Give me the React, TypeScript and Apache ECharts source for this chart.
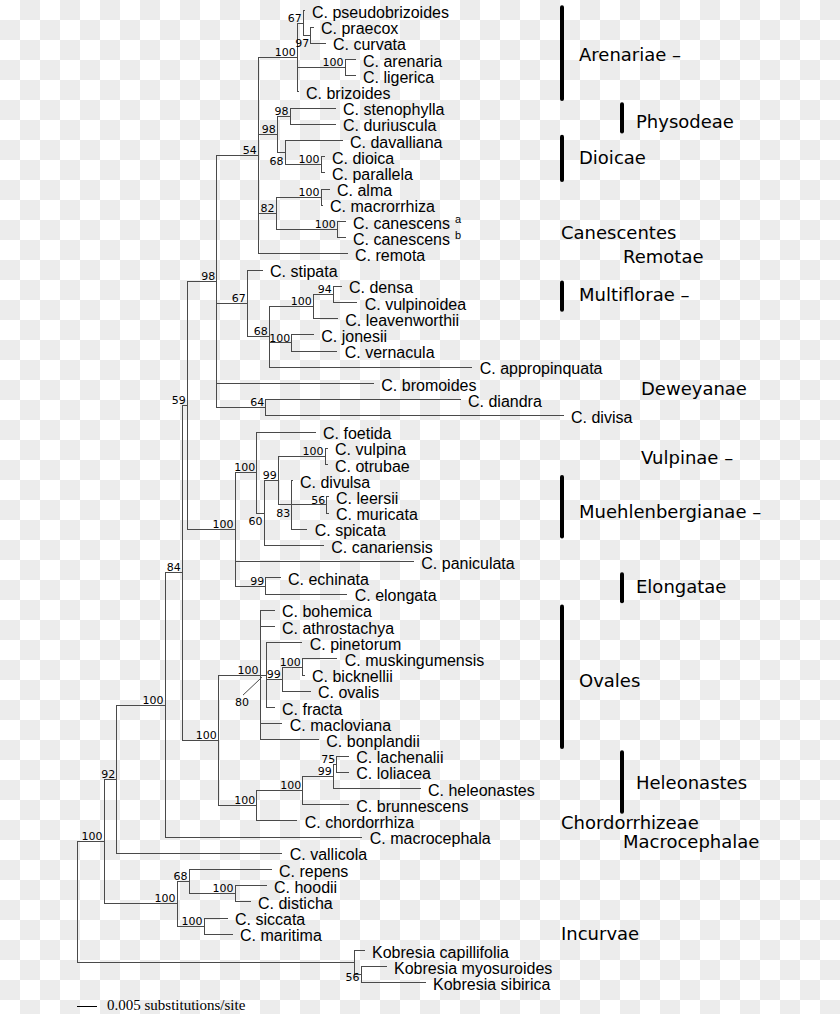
import React, { useEffect, useRef } from "react";
import * as echarts from "echarts";

// ---------- DATA ----------
// Each node: [node id or taxon name, parent id, distance from root (substitutions/site)]
const backboneNodes: [string, string, number][] = [
  ["root", "", 0],
  ["A", "root", 0.00675],
  ["B", "A", 0.00993],
  ["C", "B", 0.022],
  ["D", "C", 0.02633],
  ["E", "D", 0.02758],
  ["G", "E", 0.03493],
];

const upperCladeNodes: [string, string, number][] = [
  ["I", "G", 0.04533],
  ["K", "I", 0.05508],
  ["N67", "K", 0.05658],
  ["C. pseudobrizoides", "N67", 0.05675],
  ["N97", "N67", 0.05843],
  ["C. praecox", "N97", 0.059],
  ["C. curvata", "N97", 0.062],
  ["N100ar", "K", 0.067],
  ["C. arenaria", "N100ar", 0.0695],
  ["C. ligerica", "N100ar", 0.0695],
  ["C. brizoides", "K", 0.05525],
  ["L98", "I", 0.05008],
  ["N98b", "L98", 0.05325],
  ["C. stenophylla", "N98b", 0.0645],
  ["C. duriuscula", "N98b", 0.0645],
  ["N68d", "L98", 0.052],
  ["C. davalliana", "N68d", 0.06625],
  ["N100d", "N68d", 0.061],
  ["C. dioica", "N100d", 0.06175],
  ["C. parallela", "N100d", 0.06175],
  ["M82", "I", 0.04975],
  ["N100al", "M82", 0.061],
  ["C. alma", "N100al", 0.063],
  ["C. macrorrhiza", "N100al", 0.06125],
  ["N100ca", "M82", 0.06508],
  ["C. canescens a", "N100ca", 0.067],
  ["C. canescens b", "N100ca", 0.067],
  ["C. remota", "I", 0.0675],
];

const multifloraeNodes: [string, string, number][] = [
  ["J67", "G", 0.04258],
  ["C. stipata", "J67", 0.04625],
  ["N68m", "J67", 0.04808],
  ["N100m", "N68m", 0.05908],
  ["N94", "N100m", 0.06408],
  ["C. densa", "N94", 0.066],
  ["C. vulpinoidea", "N94", 0.06993],
  ["C. leavenworthii", "N100m", 0.06508],
  ["N100j", "N68m", 0.05368],
  ["C. jonesii", "N100j", 0.05908],
  ["C. vernacula", "N100j", 0.06493],
  ["C. appropinquata", "N68m", 0.09868],
  ["C. bromoides", "G", 0.07408],
  ["N64", "G", 0.04718],
  ["C. diandra", "N64", 0.09575],
  ["C. divisa", "N64", 0.1215],
];

const vulpinaeNodes: [string, string, number][] = [
  ["H", "E", 0.0395],
  ["Nv", "H", 0.04493],
  ["C. foetida", "Nv", 0.0595],
  ["N60", "Nv", 0.04675],
  ["N99v", "N60", 0.05033],
  ["N100vo", "N99v", 0.062],
  ["C. vulpina", "N100vo", 0.0625],
  ["C. otrubae", "N100vo", 0.0625],
  ["N83", "N99v", 0.05368],
  ["C. divulsa", "N83", 0.05375],
  ["N56", "N83", 0.06243],
  ["C. leersii", "N56", 0.06275],
  ["C. muricata", "N56", 0.06275],
  ["C. spicata", "N83", 0.05743],
  ["C. canariensis", "N60", 0.06158],
  ["C. paniculata", "H", 0.08408],
  ["N99e", "H", 0.04718],
  ["C. echinata", "N99e", 0.05075],
  ["C. elongata", "N99e", 0.06743],
];

const ovalesNodes: [string, string, number][] = [
  ["F", "D", 0.03533],
  ["O", "F", 0.04575],
  ["C. bohemica", "O", 0.04925],
  ["C. athrostachya", "O", 0.04925],
  ["N80", "O", 0.04725],
  ["C. pinetorum", "N80", 0.05618],
  ["N99o", "N80", 0.05133],
  ["N100mb", "N99o", 0.05633],
  ["C. muskingumensis", "N100mb", 0.06493],
  ["C. bicknellii", "N100mb", 0.05675],
  ["C. ovalis", "N99o", 0.05825],
  ["C. fracta", "N80", 0.04925],
  ["C. macloviana", "O", 0.05118],
  ["C. bonplandii", "O", 0.06033],
  ["P", "F", 0.04493],
  ["Q", "P", 0.05643],
  ["N99h", "Q", 0.06408],
  ["N75", "N99h", 0.06493],
  ["C. lachenalii", "N75", 0.06783],
  ["C. loliacea", "N75", 0.06783],
  ["C. heleonastes", "N99h", 0.08575],
  ["C. brunnescens", "Q", 0.06783],
  ["C. chordorrhiza", "P", 0.05493],
];

const basalNodes: [string, string, number][] = [
  ["C. macrocephala", "C", 0.07118],
  ["C. vallicola", "B", 0.05118],
  ["Inc", "A", 0.025],
  ["N68i", "Inc", 0.028],
  ["C. repens", "N68i", 0.0485],
  ["N100h", "N68i", 0.0395],
  ["C. hoodii", "N100h", 0.04725],
  ["C. disticha", "N100h", 0.04325],
  ["N100s", "Inc", 0.03175],
  ["C. siccata", "N100s", 0.0375],
  ["C. maritima", "N100s", 0.03875],
  ["Kob", "root", 0.06925],
  ["Kobresia capillifolia", "Kob", 0.07175],
  ["N56k", "Kob", 0.071],
  ["Kobresia myosuroides", "N56k", 0.07725],
  ["Kobresia sibirica", "N56k", 0.087],
];

// bootstrap support: [node id, value]
const supportValues: [string, number][] = [
  ["K", 100], ["N67", 67], ["N97", 97], ["N100ar", 100], ["I", 54],
  ["N98b", 98], ["L98", 98], ["N68d", 68], ["N100d", 100], ["M82", 82],
  ["N100al", 100], ["N100ca", 100], ["G", 98], ["J67", 67], ["N94", 94],
  ["N100m", 100], ["N68m", 68], ["N100j", 100], ["N64", 64], ["E", 59],
  ["Nv", 100], ["N99v", 99], ["N100vo", 100], ["N56", 56], ["N83", 83],
  ["N60", 60], ["H", 100], ["N99e", 99], ["D", 84], ["O", 100],
  ["N80", 80], ["N99o", 99], ["N100mb", 100], ["F", 100], ["P", 100],
  ["Q", 100], ["N99h", 99], ["N75", 75], ["C", 100], ["B", 92],
  ["A", 100], ["Inc", 100], ["N68i", 68], ["N100h", 100], ["N100s", 100],
  ["N56k", 56],
];

const leafSuperscripts: [string, string][] = [
  ["C. canescens a", "a"],
  ["C. canescens b", "b"],
];

// clade / section annotations
const cladeNames = [
  "Arenariae –", "Physodeae", "Dioicae", "Canescentes", "Remotae",
  "Multiflorae –", "Deweyanae", "Vulpinae –", "Muehlenbergianae –", "Elongatae",
  "Ovales", "Heleonastes", "Chordorrhizeae", "Macrocephalae", "Incurvae",
];
const cladeTextRows = [2.72, 6.8, 9.02, 13.65, 15.19, 17.48, 23.28, 27.54, 30.93, 35.56, 41.36, 47.6, 50.07, 51.3, 56.92];
const cladeBarRows: ([number, number] | null)[] = [
  [0, 5], [6, 7], [8, 10], null, null, [17, 18], null, null, [29, 32], [35, 36],
  [37, 45], [46, 49], null, null, null,
];
const cladeColumns = [0, 1, 0, 0, 1, 0, 2, 2, 0, 1, 0, 1, 0, 1, 0];

const scaleBarLength = 0.005;
const scaleBarLabel = "0.005 substitutions/site";

// ---------- LAYOUT / STYLE ----------
const GRID_LEFT = 77;
const GRID_TOP = 10.9;
const PX_PER_UNIT = 4000;
const ROW_PX = 16.2;
const X_MAX = 0.19;
const ROW_MAX = 60;
const BRANCH_COLOR = "#4a4a4a";
const LEAF_FONT = '16px "Liberation Sans", Arial, Helvetica, sans-serif';
const SUP_FONT = '11px "Liberation Sans", Arial, Helvetica, sans-serif';
const SUPPORT_FONT = '11px "DejaVu Sans", Verdana, sans-serif';
const CLADE_FONT = '18px "DejaVu Sans", Verdana, sans-serif';
const SCALE_FONT = '15px "Liberation Serif", "Times New Roman", serif';
const BAR_X = [562, 622];
const TEXT_X_BAR = [579, 636];
const TEXT_X_PLAIN = [561, 623, 641];
const SCALE_ROW = 61.45;
const SUPPORT_BELOW = ["N97", "N68d", "N83", "N60"];
const SUPPORT_LEVEL = ["N56k"];
const SUPPORT_CALLOUT = ["N80"];

// ---------- DERIVED TREE STRUCTURE ----------
const treeNodes = [
  ...backboneNodes,
  ...upperCladeNodes,
  ...multifloraeNodes,
  ...vulpinaeNodes,
  ...ovalesNodes,
  ...basalNodes,
];
const depthOf = new Map<string, number>();
const childrenOf = new Map<string, string[]>();
treeNodes.forEach(([id, parent, d]) => {
  depthOf.set(id, d);
  if (parent) {
    if (!childrenOf.has(parent)) childrenOf.set(parent, []);
    childrenOf.get(parent)!.push(id);
  }
});
const leaves = treeNodes.filter(([id]) => !childrenOf.has(id)).map(([id]) => id);
const rowOf = new Map<string, number>();
leaves.forEach((id, i) => rowOf.set(id, i));
function nodeRow(id: string): number {
  if (rowOf.has(id)) return rowOf.get(id)!;
  const ch = childrenOf.get(id)!;
  const r = (nodeRow(ch[0]) + nodeRow(ch[ch.length - 1])) / 2;
  rowOf.set(id, r);
  return r;
}
treeNodes.forEach(([id]) => nodeRow(id));

const branchSegments: number[][] = [];
treeNodes.forEach(([id, parent, d]) => {
  const r = rowOf.get(id)!;
  if (parent) branchSegments.push([depthOf.get(parent)!, r, d, r]);
  const ch = childrenOf.get(id);
  if (ch) branchSegments.push([d, rowOf.get(ch[0])!, d, rowOf.get(ch[ch.length - 1])!]);
});

const supMap = new Map(leafSuperscripts);
const displayName = (id: string) => (supMap.has(id) ? id.replace(/ [ab]$/, "") : id);

let measureCtx: CanvasRenderingContext2D | null = null;
function measure(text: string, font: string): number {
  if (!measureCtx) measureCtx = document.createElement("canvas").getContext("2d");
  if (!measureCtx) return text.length * 8;
  measureCtx.font = font;
  return measureCtx.measureText(text).width;
}

const crisp = (v: number) => Math.round(v - 0.5) + 0.5;

function textEl(text: string, x: number, y: number, font: string, align: string, fill = "#000") {
  return {
    type: "text",
    style: {
      text, x, y, font, fill,
      textAlign: align, align,
      textVerticalAlign: "middle", verticalAlign: "middle",
    },
  };
}

export default function App() {
  const ref = useRef<HTMLDivElement>(null);
  useEffect(() => {
    if (!ref.current) return;
    const chart = echarts.init(ref.current, null, { renderer: "svg" });
    const option: any = {
      animation: false,
      backgroundColor: "transparent",
      grid: { left: GRID_LEFT, top: GRID_TOP, width: X_MAX * PX_PER_UNIT, height: ROW_MAX * ROW_PX },
      xAxis: { type: "value", min: 0, max: X_MAX, show: false },
      yAxis: { type: "value", min: 0, max: ROW_MAX, inverse: true, show: false },
      series: [
        {
          name: "branches",
          type: "custom",
          silent: true,
          clip: false,
          data: branchSegments,
          renderItem: (_p: any, api: any) => {
            const a = api.coord([api.value(0), api.value(1)]);
            const b = api.coord([api.value(2), api.value(3)]);
            return {
              type: "line",
              shape: { x1: crisp(a[0]), y1: crisp(a[1]), x2: crisp(b[0]), y2: crisp(b[1]) },
              style: { stroke: BRANCH_COLOR, lineWidth: 1, lineCap: "square" },
            };
          },
        },
        {
          name: "taxa",
          type: "custom",
          silent: true,
          clip: false,
          data: leaves.map((id) => [depthOf.get(id)!, rowOf.get(id)!]),
          renderItem: (p: any, api: any) => {
            const id = leaves[p.dataIndex];
            const pt = api.coord([api.value(0), api.value(1)]);
            const name = displayName(id);
            const x = pt[0] + 8;
            const els: any[] = [textEl(name, x, pt[1] + 1.5, LEAF_FONT, "left")];
            const sup = supMap.get(id);
            if (sup) {
              const w = measure(name, LEAF_FONT);
              els.push(textEl(sup, x + w + 5, pt[1] - 2.5, SUP_FONT, "left"));
            }
            return { type: "group", children: els };
          },
        },
        {
          name: "support",
          type: "custom",
          silent: true,
          clip: false,
          data: supportValues.map(([id, v]) => [depthOf.get(id)!, rowOf.get(id)!, v]),
          renderItem: (p: any, api: any) => {
            const id = supportValues[p.dataIndex][0];
            const pt = api.coord([api.value(0), api.value(1)]);
            const label = String(api.value(2));
            if (SUPPORT_CALLOUT.includes(id)) {
              return {
                type: "group",
                children: [
                  {
                    type: "line",
                    shape: { x1: pt[0] - 4, y1: pt[1] + 2, x2: pt[0] - 23, y2: pt[1] + 20 },
                    style: { stroke: BRANCH_COLOR, lineWidth: 1 },
                  },
                  textEl(label, pt[0] - 24, pt[1] + 27, SUPPORT_FONT, "center"),
                ],
              };
            }
            let dy = -5;
            if (SUPPORT_BELOW.includes(id)) dy = 8.5;
            if (SUPPORT_LEVEL.includes(id)) dy = 3;
            return textEl(label, pt[0] - 1.5, pt[1] + dy, SUPPORT_FONT, "right");
          },
        },
        {
          name: "clades",
          type: "custom",
          silent: true,
          clip: false,
          data: cladeNames.map((_, i) => [0, cladeTextRows[i]]),
          renderItem: (p: any, api: any) => {
            const i = p.dataIndex;
            const col = cladeColumns[i];
            const bar = cladeBarRows[i];
            const ty = api.coord([0, api.value(1)])[1];
            const els: any[] = [];
            if (bar) {
              const y1 = api.coord([0, bar[0] - 0.23])[1];
              const y2 = api.coord([0, bar[1] + 0.44])[1];
              els.push({
                type: "line",
                shape: { x1: BAR_X[col], y1, x2: BAR_X[col], y2 },
                style: { stroke: "#000", lineWidth: 4, lineCap: "round" },
              });
              els.push(textEl(cladeNames[i], TEXT_X_BAR[col], ty, CLADE_FONT, "left"));
            } else {
              els.push(textEl(cladeNames[i], TEXT_X_PLAIN[col], ty, CLADE_FONT, "left"));
            }
            return { type: "group", children: els };
          },
        },
        {
          name: "scale",
          type: "custom",
          silent: true,
          clip: false,
          data: [[0, SCALE_ROW, scaleBarLength]],
          renderItem: (_p: any, api: any) => {
            const a = api.coord([api.value(0), api.value(1)]);
            const b = api.coord([api.value(2), api.value(1)]);
            return {
              type: "group",
              children: [
                {
                  type: "line",
                  shape: { x1: a[0], y1: crisp(a[1]), x2: b[0], y2: crisp(b[1]) },
                  style: { stroke: "#000", lineWidth: 1 },
                },
                textEl(scaleBarLabel, b[0] + 10, a[1] - 1, SCALE_FONT, "left"),
              ],
            };
          },
        },
      ],
    };
    chart.setOption(option);
    return () => chart.dispose();
  }, []);
  return (
    <div
      ref={ref}
      style={{
        position: "absolute",
        left: 0,
        top: 0,
        width: 840,
        height: 1014,
        backgroundColor: "#fff",
        backgroundImage: "repeating-conic-gradient(#ececec 0 25%, #ffffff 0 50%)",
        backgroundSize: "40px 40px",
      }}
    />
  );
}
